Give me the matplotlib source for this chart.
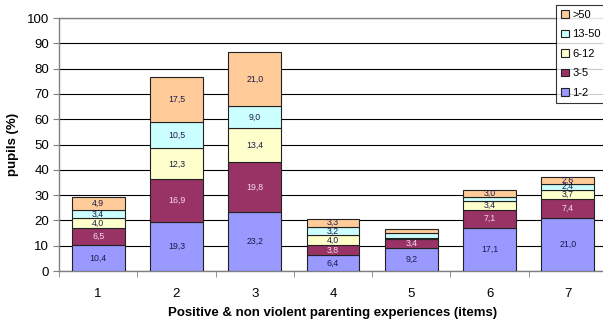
import matplotlib
matplotlib.use("Agg")
import matplotlib.pyplot as plt
import numpy as np

plt.rcParams['font.family'] = ['Liberation Sans', 'DejaVu Sans']

categories = ['1', '2', '3', '4', '5', '6', '7']
series_names = ['1-2', '3-5', '6-12', '13-50', '>50']
v_1_2 = [10.4, 19.3, 23.2, 6.4, 9.2, 17.1, 21.0]
v_3_5 = [6.5, 16.9, 19.8, 3.8, 3.4, 7.1, 7.4]
v_6_12 = [4.0, 12.3, 13.4, 4.0, 0.6, 3.4, 3.7]
v_13_50 = [3.4, 10.5, 9.0, 3.2, 2.0, 1.5, 2.4]
v_gt50 = [4.9, 17.5, 21.0, 3.3, 1.4, 3.0, 2.6]
colors = ['#9999FF', '#993366', '#FFFFCC', '#CCFFFF', '#FFCC99']
label_colors = ['#1a1a4a', '#f2dbe6', '#1a1a4a', '#1a1a4a', '#1a1a4a']

series = [v_1_2, v_3_5, v_6_12, v_13_50, v_gt50]

fig = plt.figure(figsize=(6.03, 3.27), dpi=100)
ax = fig.add_axes([59/603, 56/327, (607-59)/603, (271-18)/327])

x = np.arange(1, len(categories) + 1)
bottom = np.zeros(len(categories))
handles = []
for name, vals, col, lc in zip(series_names, series, colors, label_colors):
    vals = np.array(vals)
    b = ax.bar(x, vals, 0.675, bottom=bottom, color=col, edgecolor='#222222',
               linewidth=0.8, label=name, zorder=3)
    handles.append(b)
    for xi, v, bt in zip(x, vals, bottom):
        if v >= 2.2:
            ax.text(xi, bt + v / 2, f"{v:.1f}".replace('.', ','), ha='center',
                    va='center', fontsize=6.3, color=lc, zorder=4)
    bottom += vals

ax.set_xlim(0.5, len(categories) + 0.5)
ax.set_ylim(0, 100)
ax.set_yticks(np.arange(0, 101, 10))
ax.yaxis.grid(True, color='black', linewidth=0.8, zorder=0)
ax.set_axisbelow(True)
ax.set_xticks(x)
ax.set_xticklabels(categories)
ax.set_xticks(np.arange(0.5, len(categories) + 1, 1), minor=True)
ax.tick_params(axis='x', which='major', length=0, pad=12, labelsize=9.5)
ax.tick_params(axis='x', which='minor', length=4, color='#808080', direction='out')
ax.tick_params(axis='y', length=4, color='#808080', labelsize=9.5, pad=3)

for s in ['right']:
    ax.spines[s].set_visible(False)
for s in ['left', 'bottom', 'top']:
    ax.spines[s].set_color('#808080')
    ax.spines[s].set_linewidth(1.0)

ax.set_ylabel('pupils (%)', fontsize=9.5, fontweight='bold', labelpad=6)
ax.set_xlabel('Positive & non violent parenting experiences (items)', fontsize=9.5,
              fontweight='bold', labelpad=5)

leg = fig.legend(handles[::-1], series_names[::-1], loc='upper left',
                 bbox_to_anchor=(556/603, 1 - 5/327), fontsize=8,
                 frameon=True, fancybox=False, edgecolor='black',
                 handlelength=0.7, handleheight=0.7, handletextpad=0.3,
                 borderpad=0.45, labelspacing=0.85, borderaxespad=0)
leg.get_frame().set_linewidth(0.8)
leg.get_frame().set_facecolor('white')

fig.savefig('out.png', dpi=100)
